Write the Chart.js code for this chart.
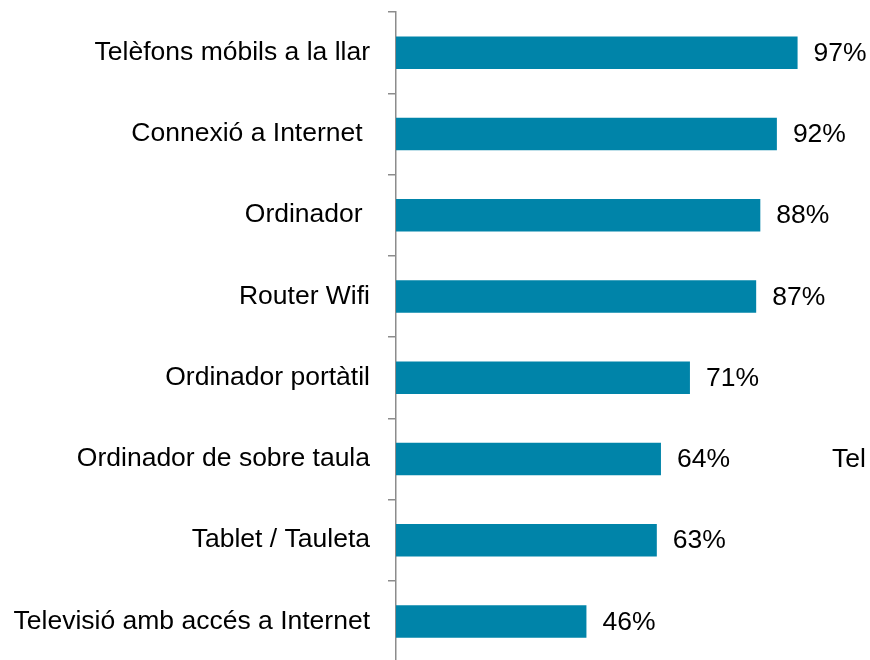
<!DOCTYPE html>
<html>
<head>
<meta charset="utf-8">
<script src="https://cdn.jsdelivr.net/npm/chart.js@4/dist/chart.umd.min.js"></script>
<style>
html,body{margin:0;padding:0;background:#fff;overflow:hidden;width:870px;height:660px;}
#wrap{position:relative;width:870px;height:672px;}
#stray{position:absolute;left:832px;top:443px;font:26.5px "Liberation Sans",Arial,sans-serif;color:#000;white-space:nowrap;}
</style>
</head>
<body>
<div id="wrap">
<canvas id="c" width="870" height="672"></canvas>
<div id="stray">Tel</div>
</div>
<script>
const categories = [
  "Telèfons móbils a la llar",
  "Connexió a Internet ",
  "Ordinador ",
  "Router Wifi",
  "Ordinador portàtil",
  "Ordinador de sobre taula",
  "Tablet / Tauleta",
  "Televisió amb accés a Internet"
];
const values = [97, 92, 88, 87, 71, 64, 63, 46];
const valueLabels = ["97%", "92%", "88%", "87%", "71%", "64%", "63%", "46%"];

const FONT = '"Liberation Sans", Arial, sans-serif';

const labelPlugin = {
  id: 'valLabels',
  afterDatasetsDraw(chart) {
    const ctx = chart.ctx;
    const meta = chart.getDatasetMeta(0);
    ctx.save();
    ctx.font = '26.5px ' + FONT;
    ctx.fillStyle = '#000';
    ctx.textAlign = 'left';
    ctx.textBaseline = 'middle';
    meta.data.forEach((bar, i) => {
      ctx.fillText(valueLabels[i], bar.x + 16, bar.y + 1);
    });
    ctx.restore();
  }
};

new Chart(document.getElementById('c'), {
  type: 'bar',
  data: {
    labels: categories,
    datasets: [{
      data: values,
      backgroundColor: '#0084A9',
      borderWidth: 0,
      barPercentage: 0.4,
      categoryPercentage: 1
    }]
  },
  options: {
    indexAxis: 'y',
    responsive: false,
    animation: false,
    devicePixelRatio: 1,
    layout: { padding: { left: 0, right: 60, top: 12, bottom: 10 } },
    plugins: { legend: { display: false }, tooltip: { enabled: false } },
    scales: {
      x: { display: false, min: 0, max: 100 },
      y: {
        afterFit(s) { s.width = 396; s.paddingTop = 0; s.paddingBottom = 0; },
        grid: { drawOnChartArea: false, drawTicks: true, tickLength: 8, color: '#8c8c8c', lineWidth: 1.5, offset: true },
        border: { display: true, color: '#8c8c8c', width: 1.5 },
        ticks: { color: '#000', font: { family: FONT, size: 26.5 }, padding: 18, autoSkip: false }
      }
    }
  },
  plugins: [labelPlugin]
});
</script>
</body>
</html>
